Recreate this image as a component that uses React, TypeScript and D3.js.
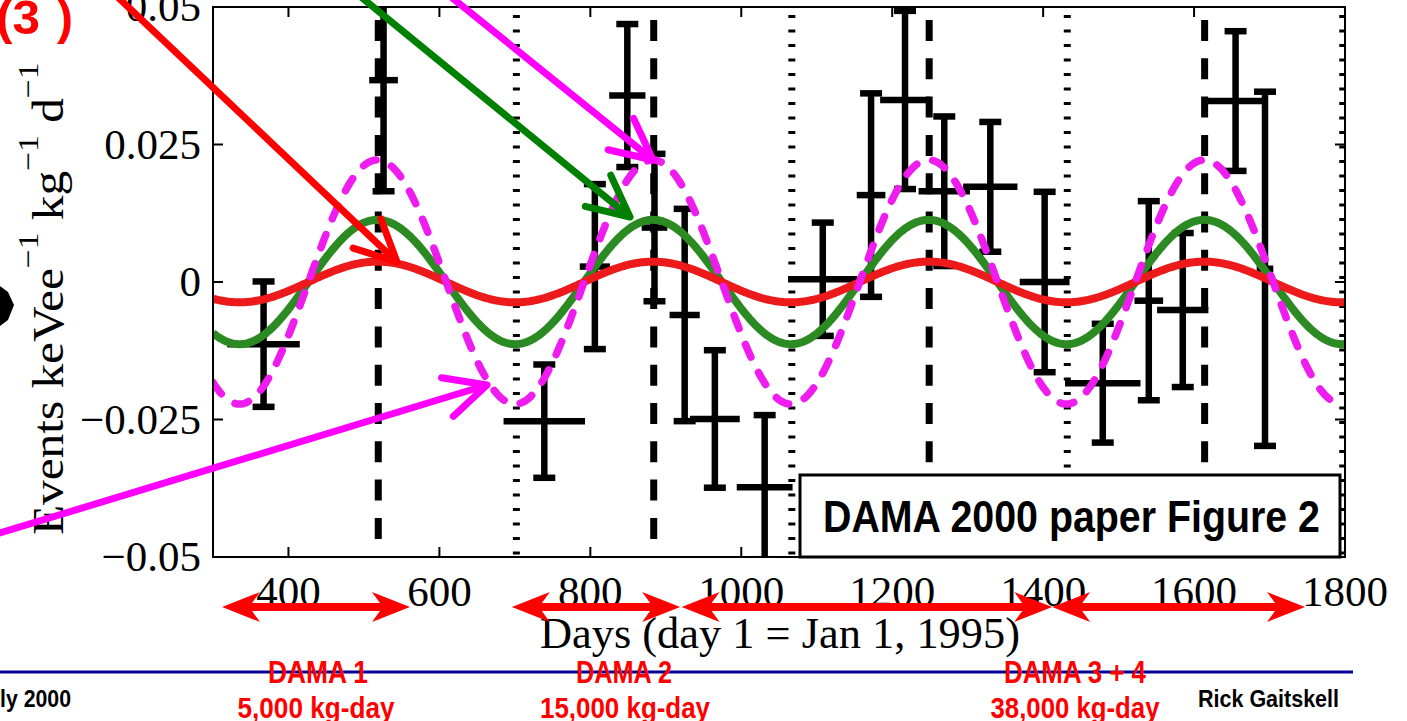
import { useEffect, useRef } from 'react'
import * as d3 from 'd3'

const W = 1407
const H = 721

const xTicks = [400, 600, 800, 1000, 1200, 1400, 1600, 1800]
const yTicks = [0.05, 0.025, 0, -0.025, -0.05]
const yTickLabels = ['0.05', '0.025', '0', '\u22120.025', '\u22120.05']

// binned residual rate: day, value, half bin width (days), 1 sigma
const binDays = [367, 526, 739, 806, 849, 885, 925, 965, 1031, 1108, 1172, 1217, 1269, 1330, 1402, 1479, 1540, 1585, 1655, 1694]
const binValues = [-0.0113, 0.0367, -0.0253, 0.0028, 0.0339, 0.0099, -0.006, -0.0249, -0.0373, 0.0005, 0.0158, 0.0331, 0.0165, 0.0173, 0, -0.0184, -0.0034, -0.0051, 0.0329, 0.0024]
const binHalfWidths = [48, 19, 54, 20, 24, 17, 20, 33, 37, 46, 19, 33, 34, 36, 33, 50, 19, 34, 38, 11]
const binErrors = [0.0114, 0.0202, 0.0103, 0.015, 0.013, 0.0134, 0.0193, 0.0125, 0.0131, 0.0103, 0.0185, 0.0162, 0.0136, 0.0118, 0.0164, 0.0108, 0.0181, 0.014, 0.0127, 0.0322]

// June 2 (dashed) and December 2 (dotted) markers
const juneDays = [519, 884, 1249, 1614]
const decemberDays = [702, 1067, 1432, 1797]

// cosine models, drawn in this order
const modelAmplitudes = [0.0113, 0.0037, 0.0222]
const modelColors = ['#2b8a22', '#ec1a1a', '#ee1cee']
const modelDashed = [false, false, true]
const modelPeriod = 365.25
const modelPhase = 152.5

// data-taking periods under the axis
const runStarts = [312, 696, 921, 1412]
const runEnds = [561, 919, 1412, 1747]
const runNames = ['DAMA 1', 'DAMA 2', 'DAMA 3 + 4']
const runExposures = ['5,000 kg-day', '15,000 kg-day', '38,000 kg-day']

const narrow = "'Liberation Sans Narrow', 'Arial Narrow', 'Liberation Sans', sans-serif"
const serif = "'Liberation Serif', 'Times New Roman', serif"

export default function App() {
  const ref = useRef<SVGSVGElement>(null)

  useEffect(() => {
    const el = ref.current
    if (!el) return
    const svg = d3.select(el)
    svg.selectAll('*').remove()

    const left = 213
    const right = 1345
    const top = 7
    const bottom = 557

    const x = d3.scaleLinear().domain([300, 1800]).range([left, right])
    const y = d3.scaleLinear().domain([-0.05, 0.05]).range([bottom, top])

    svg.append('rect').attr('width', W).attr('height', H).attr('fill', '#fff')

    svg
      .append('defs')
      .append('clipPath')
      .attr('id', 'plot')
      .append('rect')
      .attr('x', left)
      .attr('y', top)
      .attr('width', right - left)
      .attr('height', bottom - top)

    const g = svg.append('g').attr('clip-path', 'url(#plot)')

    g.selectAll('line.dot')
      .data(decemberDays)
      .join('line')
      .attr('class', 'dot')
      .attr('x1', (d) => x(d))
      .attr('x2', (d) => x(d))
      .attr('y1', top)
      .attr('y2', bottom)
      .attr('stroke', '#000')
      .attr('stroke-width', 7)
      .attr('stroke-dasharray', '3,11.5')
      .attr('stroke-dashoffset', 6.5)

    g.selectAll('line.dash')
      .data(juneDays)
      .join('line')
      .attr('class', 'dash')
      .attr('x1', (d) => x(d))
      .attr('x2', (d) => x(d))
      .attr('y1', top)
      .attr('y2', bottom)
      .attr('stroke', '#000')
      .attr('stroke-width', 7)
      .attr('stroke-dasharray', '21,17.3')
      .attr('stroke-dashoffset', 25.3)

    const bins = binDays.map((d, i) => ({
      day: d,
      v: binValues[i],
      hw: binHalfWidths[i],
      e: binErrors[i],
    }))

    const eb = g.selectAll('g.bin').data(bins).join('g').attr('class', 'bin').attr('stroke', '#000').attr('stroke-width', 6.5)
    eb.append('line')
      .attr('x1', (d) => x(d.day))
      .attr('x2', (d) => x(d.day))
      .attr('y1', (d) => y(d.v + d.e))
      .attr('y2', (d) => y(d.v - d.e))
    eb.append('line')
      .attr('x1', (d) => x(d.day - d.hw))
      .attr('x2', (d) => x(d.day + d.hw))
      .attr('y1', (d) => y(d.v))
      .attr('y2', (d) => y(d.v))
    ;[1, -1].forEach((s) => {
      eb.append('line')
        .attr('x1', (d) => x(d.day) - 11)
        .attr('x2', (d) => x(d.day) + 11)
        .attr('y1', (d) => y(d.v + s * d.e))
        .attr('y2', (d) => y(d.v + s * d.e))
    })

    const days = d3.range(300, 1801, 2)
    modelAmplitudes.forEach((a, i) => {
      const line = d3
        .line<number>()
        .x((t) => x(t))
        .y((t) => y(a * Math.cos((2 * Math.PI * (t - modelPhase)) / modelPeriod)))
      g.append('path')
        .attr('d', line(days))
        .attr('fill', 'none')
        .attr('stroke', modelColors[i])
        .attr('stroke-width', modelDashed[i] ? 7.5 : 8)
        .attr('stroke-linecap', modelDashed[i] ? 'round' : 'butt')
        .attr('stroke-dasharray', modelDashed[i] ? '14,17' : null)
    })

    // axes box and ticks
    svg.append('rect')
      .attr('x', left)
      .attr('y', top)
      .attr('width', right - left)
      .attr('height', bottom - top)
      .attr('fill', 'none')
      .attr('stroke', '#000')
      .attr('stroke-width', 2)

    const ticks = svg.append('g').attr('stroke', '#000').attr('stroke-width', 2)
    xTicks.forEach((t) => {
      ticks.append('line').attr('x1', x(t)).attr('x2', x(t)).attr('y1', bottom).attr('y2', bottom - 10)
      ticks.append('line').attr('x1', x(t)).attr('x2', x(t)).attr('y1', top).attr('y2', top + 10)
    })
    yTicks.forEach((t) => {
      ticks.append('line').attr('x1', left).attr('x2', left + 10).attr('y1', y(t)).attr('y2', y(t))
      ticks.append('line').attr('x1', right).attr('x2', right - 10).attr('y1', y(t)).attr('y2', y(t))
    })

    svg.append('g')
      .selectAll('text')
      .data(xTicks)
      .join('text')
      .attr('x', (d) => x(d))
      .attr('y', 606)
      .attr('text-anchor', 'middle')
      .attr('font-family', serif)
      .attr('font-size', 43)
      .text((d) => d)

    svg.append('g')
      .selectAll('text')
      .data(yTicks)
      .join('text')
      .attr('x', 201)
      .attr('y', (d) => y(d) + 14)
      .attr('text-anchor', 'end')
      .attr('font-family', serif)
      .attr('font-size', 43)
      .text((d, i) => yTickLabels[i])

    svg.append('text')
      .attr('x', 780)
      .attr('y', 648)
      .attr('text-anchor', 'middle')
      .attr('font-family', serif)
      .attr('font-size', 44)
      .attr('textLength', 480)
      .attr('lengthAdjust', 'spacingAndGlyphs')
      .text('Days (day 1 = Jan 1, 1995)')

    const yl = svg.append('text')
      .attr('transform', 'translate(63,535) rotate(-90) scale(1.12,1)')
      .attr('font-family', serif)
      .attr('font-size', 44)
    const parts = [['Events keVee', ''], ['\u22121', 'sup'], [' kg', ''], ['\u22121', 'sup'], [' d', ''], ['\u22121', 'sup']]
    parts.forEach(([txt, kind]) => {
      const ts = yl.append('tspan').text(txt)
      if (kind === 'sup') ts.attr('font-size', 30).attr('dy', -25)
      else ts.attr('dy', 25)
    })
    yl.select('tspan').attr('dy', 0)

    // figure caption box
    svg.append('rect')
      .attr('x', 800)
      .attr('y', 475)
      .attr('width', 540)
      .attr('height', 82)
      .attr('fill', '#fff')
      .attr('stroke', '#000')
      .attr('stroke-width', 3)
    svg.append('text')
      .attr('x', 823)
      .attr('y', 532)
      .attr('font-family', narrow)
      .attr('font-weight', 'bold')
      .attr('font-size', 44)
      .attr('textLength', 497)
      .attr('lengthAdjust', 'spacingAndGlyphs')
      .text('DAMA 2000 paper Figure 2')

    // pointer arrows
    const arrows = [
      { from: [105, -15], to: [397, 262], color: '#ff0000' },
      { from: [350, -12], to: [630, 217], color: '#008000' },
      { from: [440, -12], to: [653, 160], color: '#ff00ff' },
      { from: [-10, 536], to: [487, 385], color: '#ff00ff' },
    ]
    arrows.forEach((a) => {
      const [x0, y0] = a.from
      const [x1, y1] = a.to
      const ang = Math.atan2(y1 - y0, x1 - x0) + Math.PI
      const spread = (26 * Math.PI) / 180
      const len = 46
      const path = d3.path()
      path.moveTo(x0, y0)
      path.lineTo(x1, y1)
      path.moveTo(x1 + len * Math.cos(ang - spread), y1 + len * Math.sin(ang - spread))
      path.lineTo(x1, y1)
      path.lineTo(x1 + len * Math.cos(ang + spread), y1 + len * Math.sin(ang + spread))
      svg.append('path')
        .attr('d', path.toString())
        .attr('fill', 'none')
        .attr('stroke', a.color)
        .attr('stroke-width', 7)
        .attr('stroke-linecap', 'round')
        .attr('stroke-linejoin', 'round')
    })

    // red double arrows for data runs
    const ay = 607
    runStarts.forEach((s, i) => {
      const x1 = x(s)
      const x2 = x(runEnds[i])
      const pts: [number, number][] = [
        [x1, ay], [x1 + 38, ay - 15], [x1 + 30, ay - 4], [x2 - 30, ay - 4], [x2 - 38, ay - 15],
        [x2, ay], [x2 - 38, ay + 15], [x2 - 30, ay + 4], [x1 + 30, ay + 4], [x1 + 38, ay + 15],
      ]
      svg.append('polygon').attr('points', pts.map((p) => p.join(',')).join(' ')).attr('fill', '#ff0000')
    })

    // slide footer
    svg.append('line')
      .attr('x1', 0)
      .attr('x2', 1353)
      .attr('y1', 672)
      .attr('y2', 672)
      .attr('stroke', '#000099')
      .attr('stroke-width', 3)

    const runNameX = [318, 624, 1075]
    const runNameW = [100, 96, 142]
    const runExpX = [316, 625, 1075]
    const runExpW = [157, 170, 169]
    runNames.forEach((n, i) => {
      svg.append('text')
        .attr('x', runNameX[i])
        .attr('y', 683)
        .attr('text-anchor', 'middle')
        .attr('font-family', narrow)
        .attr('font-weight', 'bold')
        .attr('font-size', 31)
        .attr('fill', '#ff0000')
        .attr('textLength', runNameW[i])
        .attr('lengthAdjust', 'spacingAndGlyphs')
        .text(n)
      svg.append('text')
        .attr('x', runExpX[i])
        .attr('y', 718)
        .attr('text-anchor', 'middle')
        .attr('font-family', narrow)
        .attr('font-weight', 'bold')
        .attr('font-size', 29)
        .attr('fill', '#ff0000')
        .attr('textLength', runExpW[i])
        .attr('lengthAdjust', 'spacingAndGlyphs')
        .text(runExposures[i])
    })

    svg.append('text')
      .attr('x', 0)
      .attr('y', 707)
      .attr('font-family', narrow)
      .attr('font-weight', 'bold')
      .attr('font-size', 24)
      .attr('textLength', 71)
      .attr('lengthAdjust', 'spacingAndGlyphs')
      .text('ly 2000')
    svg.append('text')
      .attr('x', 1198)
      .attr('y', 707)
      .attr('font-family', narrow)
      .attr('font-weight', 'bold')
      .attr('font-size', 24)
      .attr('textLength', 141)
      .attr('lengthAdjust', 'spacingAndGlyphs')
      .text('Rick Gaitskell')

    // cut-off slide fragments at the left edge
    svg.append('text')
      .attr('x', -4)
      .attr('y', 34)
      .attr('font-family', narrow)
      .attr('font-weight', 'bold')
      .attr('font-size', 48)
      .attr('fill', '#ff0000')
      .attr('textLength', 44)
      .attr('lengthAdjust', 'spacingAndGlyphs')
      .text('(3')
    svg.append('text')
      .attr('x', 57)
      .attr('y', 34)
      .attr('font-family', narrow)
      .attr('font-weight', 'bold')
      .attr('font-size', 48)
      .attr('fill', '#ff0000')
      .text(')')
    svg.append('polygon').attr('points', '0,286 8,292 14,305 8,320 0,326').attr('fill', '#000')
  }, [])

  return (
    <svg
      ref={ref}
      width={W}
      height={H}
      style={{ position: 'absolute', left: 0, top: 0, display: 'block' }}
    />
  )
}
